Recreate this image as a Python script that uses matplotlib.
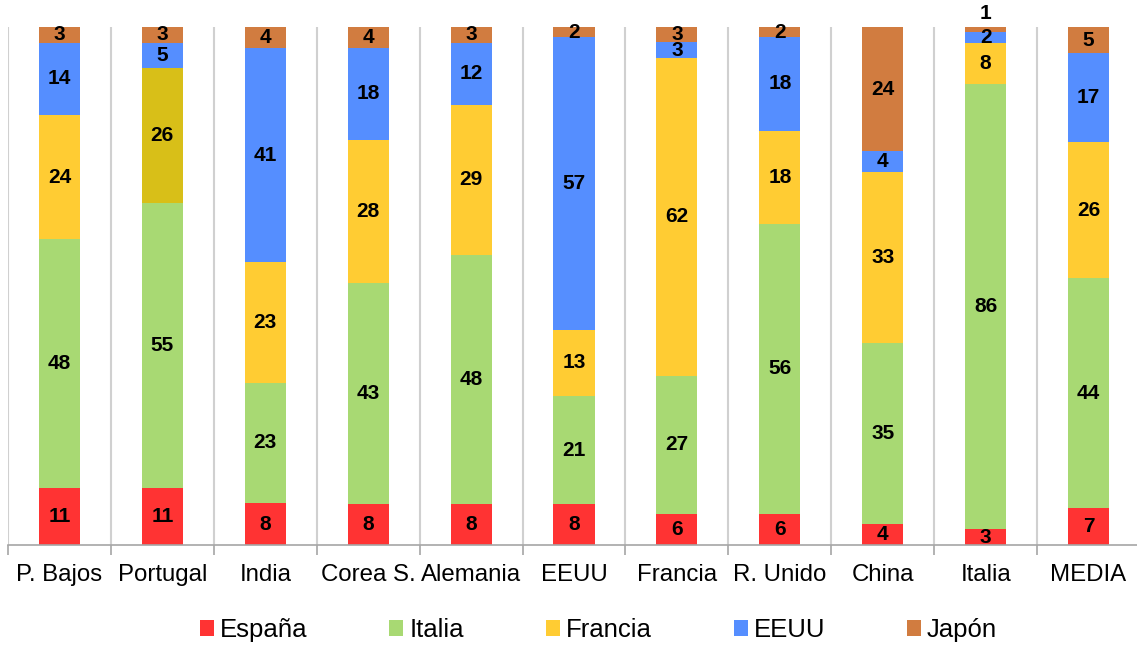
import matplotlib
matplotlib.use("Agg")
import matplotlib.pyplot as plt
import numpy as np
from matplotlib.patches import Patch

plt.rcParams['font.family'] = ['Liberation Sans', 'DejaVu Sans']

categories = ["P. Bajos", "Portugal", "India", "Corea S.", "Alemania", "EEUU",
              "Francia", "R. Unido", "China", "Italia", "MEDIA"]
series_names = ["España", "Italia", "Francia", "EEUU", "Japón"]
espana  = [11, 11, 8, 8, 8, 8, 6, 6, 4, 3, 7]
italia  = [48, 55, 23, 43, 48, 21, 27, 56, 35, 86, 44]
francia = [24, 26, 23, 28, 29, 13, 62, 18, 33, 8, 26]
eeuu    = [14, 5, 41, 18, 12, 57, 3, 18, 4, 2, 17]
japon   = [3, 3, 4, 4, 3, 2, 3, 2, 24, 1, 5]

colors = ["#FF3333", "#A8D973", "#FFCC33", "#558EFF", "#D17C40"]
portugal_francia_color = "#D8BF18"

data = np.array([espana, italia, francia, eeuu, japon], dtype=float)
totals = data.sum(axis=0)
pct = data / totals * 100

fig = plt.figure(figsize=(11.37, 6.46), dpi=100)
ax = fig.add_axes([8/1137, 1-545/646, 1132/1137, 518/646])

x = np.arange(len(categories))
bottom = np.zeros(len(categories))
for s in range(len(series_names)):
    cols = [colors[s]] * len(categories)
    if s == 2:
        cols[categories.index("Portugal")] = portugal_francia_color
    bars = ax.bar(x, pct[s], 0.4, bottom=bottom, color=cols, zorder=3, linewidth=0)
    for i, b in enumerate(bars):
        yc = bottom[i] + pct[s][i] / 2
        val = int(data[s][i])
        if pct[s][i] < 1.5:
            ax.annotate(str(val), (x[i], bottom[i] + pct[s][i]), xytext=(0, 9.5),
                        textcoords="offset points", ha="center", va="center",
                        fontsize=15, fontweight="bold", zorder=5, annotation_clip=False)
        else:
            ax.text(x[i], yc, str(val), ha="center", va="center",
                    fontsize=15, fontweight="bold", zorder=5)
    bottom += pct[s]

ax.set_xlim(-0.5, len(categories) - 0.5)
ax.set_ylim(0, 100)
ax.set_yticks([])
ax.set_xticks(x)
ax.set_xticklabels(categories, fontsize=17.3)
ax.set_xticks(np.arange(-0.5, len(categories)), minor=True)
ax.tick_params(axis="x", which="major", length=0, pad=14)
ax.tick_params(axis="x", which="minor", length=7, color="#A6A6A6", width=1.2)
ax.grid(True, axis="x", which="minor", color="#D0D0D0", linewidth=1.5, zorder=0)
for sp in ["top", "right", "left"]:
    ax.spines[sp].set_visible(False)
ax.spines["bottom"].set_color("#A6A6A6")
ax.spines["bottom"].set_linewidth(1.2)
ax.spines["bottom"].set_zorder(4)

fs_leg = 18.5
px = fs_leg * 100 / 72
handles = [Patch(facecolor=c, edgecolor="none") for c in colors]
fig.legend(handles, series_names, loc="center", bbox_to_anchor=(598.5/1137, 1-630/646),
           ncol=5, frameon=False, fontsize=fs_leg, handlelength=14/px, handleheight=14/px,
           handletextpad=6/px, columnspacing=82/px, borderaxespad=0, borderpad=0)

fig.savefig("out.png", dpi=100)
